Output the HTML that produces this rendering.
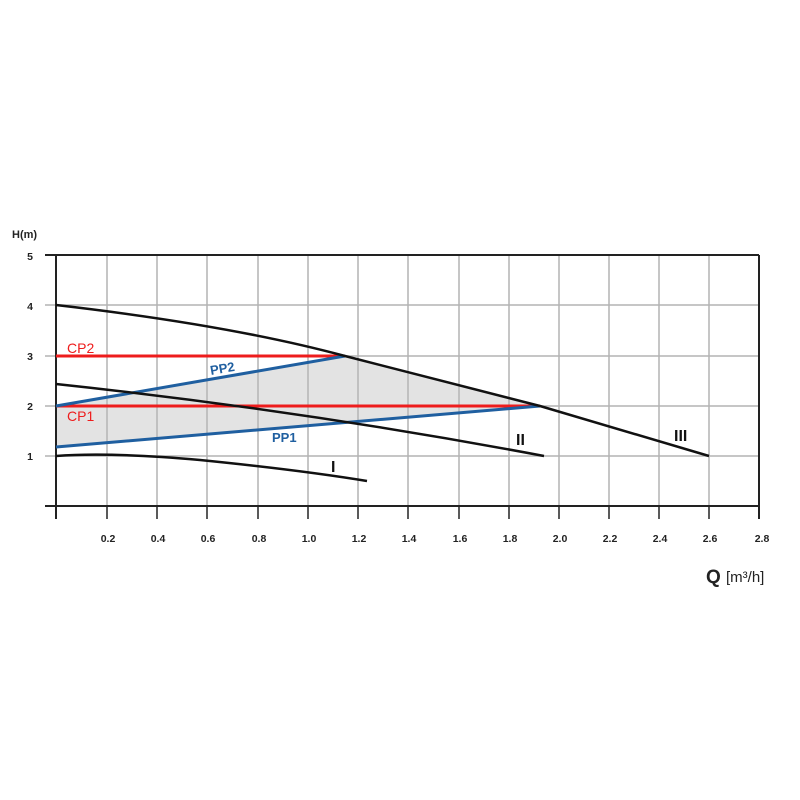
<!DOCTYPE html>
<html><head><style>body{margin:0;background:#fff}svg{display:block}</style></head><body>
<svg width="800" height="800" viewBox="0 0 800 800" xmlns="http://www.w3.org/2000/svg" font-family="Liberation Sans, sans-serif">
<rect width="800" height="800" fill="#fff"/>
<path d="M56,406 L345,356 Q450,383 540,406 L56,447 Z" fill="#e3e3e3"/>
<g stroke="#b4b4b4" stroke-width="1.5">
<line x1="107" y1="255" x2="107" y2="506"/><line x1="157" y1="255" x2="157" y2="506"/>
<line x1="207" y1="255" x2="207" y2="506"/><line x1="258" y1="255" x2="258" y2="506"/>
<line x1="308" y1="255" x2="308" y2="506"/><line x1="358" y1="255" x2="358" y2="506"/>
<line x1="408" y1="255" x2="408" y2="506"/><line x1="459" y1="255" x2="459" y2="506"/>
<line x1="509" y1="255" x2="509" y2="506"/><line x1="559" y1="255" x2="559" y2="506"/>
<line x1="609" y1="255" x2="609" y2="506"/><line x1="659" y1="255" x2="659" y2="506"/>
<line x1="709" y1="255" x2="709" y2="506"/>
<line x1="45" y1="305" x2="759" y2="305"/><line x1="45" y1="356" x2="759" y2="356"/>
<line x1="45" y1="406" x2="759" y2="406"/><line x1="45" y1="456" x2="759" y2="456"/>
</g>
<g stroke="#222" stroke-width="2" fill="none">
<line x1="45" y1="255" x2="759" y2="255"/>
<line x1="45" y1="506" x2="759" y2="506"/>
<line x1="56" y1="255" x2="56" y2="519"/>
<line x1="759" y1="255" x2="759" y2="519"/>
</g>
<g stroke="#222" stroke-width="1.5">
<line x1="107" y1="506" x2="107" y2="519"/><line x1="157" y1="506" x2="157" y2="519"/>
<line x1="207" y1="506" x2="207" y2="519"/><line x1="258" y1="506" x2="258" y2="519"/>
<line x1="308" y1="506" x2="308" y2="519"/><line x1="358" y1="506" x2="358" y2="519"/>
<line x1="408" y1="506" x2="408" y2="519"/><line x1="459" y1="506" x2="459" y2="519"/>
<line x1="509" y1="506" x2="509" y2="519"/><line x1="559" y1="506" x2="559" y2="519"/>
<line x1="609" y1="506" x2="609" y2="519"/><line x1="659" y1="506" x2="659" y2="519"/>
<line x1="709" y1="506" x2="709" y2="519"/>
</g>
<g stroke="#ee1c1c" stroke-width="3">
<line x1="56" y1="356" x2="345" y2="356"/>
<line x1="56" y1="406" x2="540" y2="406"/>
</g>
<g stroke="#1f5fa0" stroke-width="3">
<line x1="56" y1="406" x2="345" y2="356"/>
<line x1="56" y1="447" x2="540" y2="406"/>
</g>
<g stroke="#111" stroke-width="2.5" fill="none">
<path d="M56,305 Q230,325 345,356 Q450,383 540,406 L709,456"/>
<path d="M56,384 Q300,410 544,456"/>
<path d="M56,456 Q110,452 200,460 Q300,470 367,481"/>
</g>
<g font-weight="bold" font-size="10.5" fill="#222" text-anchor="middle">
<text x="108" y="542">0.2</text><text x="158" y="542">0.4</text><text x="208" y="542">0.6</text>
<text x="259" y="542">0.8</text><text x="309" y="542">1.0</text><text x="359" y="542">1.2</text>
<text x="409" y="542">1.4</text><text x="460" y="542">1.6</text><text x="510" y="542">1.8</text>
<text x="560" y="542">2.0</text><text x="610" y="542">2.2</text><text x="660" y="542">2.4</text>
<text x="710" y="542">2.6</text><text x="762" y="542">2.8</text>
<text x="30" y="260">5</text><text x="30" y="310">4</text><text x="30" y="360">3</text>
<text x="30" y="410">2</text><text x="30" y="460">1</text>
</g>
<text x="12" y="238" font-size="11" font-weight="bold" fill="#222">H(m)</text>
<text x="706" y="583" font-size="19" font-weight="bold" fill="#222">Q</text>
<text x="726" y="582" font-size="15" fill="#222">[m³/h]</text>
<g font-size="14" fill="#ee1c1c"><text x="67" y="353">CP2</text><text x="67" y="421">CP1</text></g>
<g font-size="13" font-weight="bold" fill="#1f5fa0">
<text x="210" y="373" transform="rotate(-10 222 368)">PP2</text>
<text x="272" y="442">PP1</text></g>
<g font-size="16" font-weight="bold" fill="#111">
<text x="331" y="472">I</text><text x="516" y="445">II</text><text x="674" y="441">III</text></g>
</svg>
</body></html>
